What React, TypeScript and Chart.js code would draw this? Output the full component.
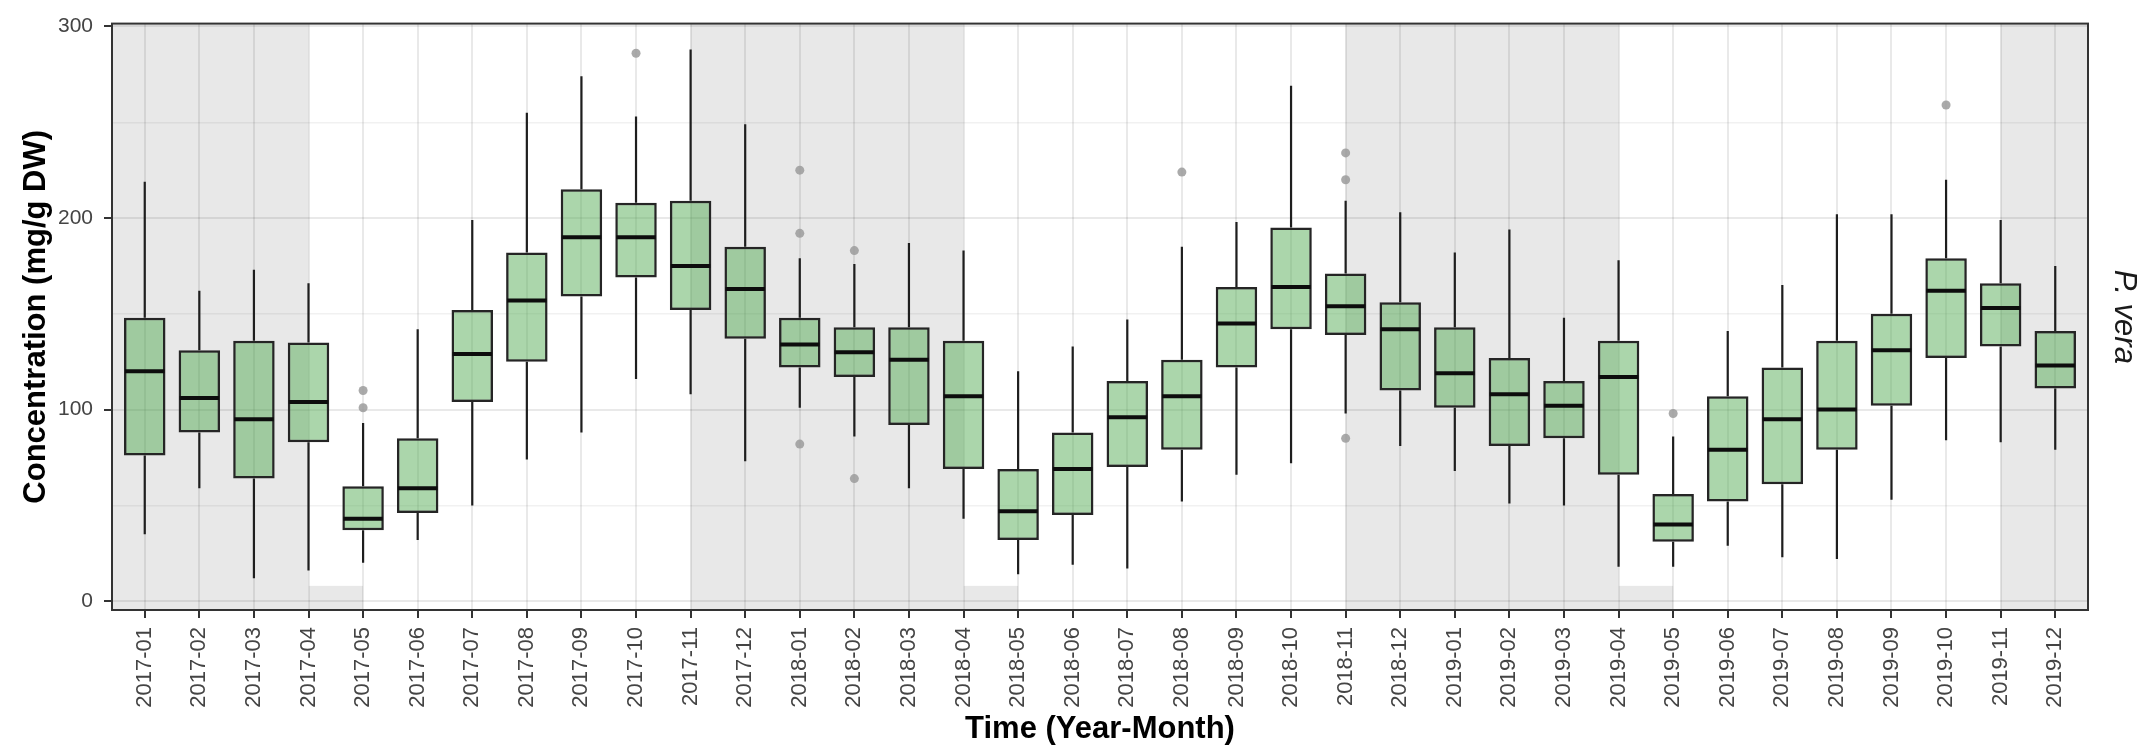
import React, { useEffect, useRef } from 'react';
import { Chart, registerables } from 'chart.js';

Chart.register(...registerables);

const FONT = "'Liberation Sans', Arial, Helvetica, sans-serif";

const months = [
  '2017-01', '2017-02', '2017-03', '2017-04', '2017-05', '2017-06',
  '2017-07', '2017-08', '2017-09', '2017-10', '2017-11', '2017-12',
  '2018-01', '2018-02', '2018-03', '2018-04', '2018-05', '2018-06',
  '2018-07', '2018-08', '2018-09', '2018-10', '2018-11', '2018-12',
  '2019-01', '2019-02', '2019-03', '2019-04', '2019-05', '2019-06',
  '2019-07', '2019-08', '2019-09', '2019-10', '2019-11', '2019-12',
];

const whiskerLow = [35, 59, 12, 16, 20, 32, 50, 74, 88, 116, 108, 73, 101, 86, 59, 43, 14, 19, 17, 52, 66, 72, 98, 81, 68, 51, 50, 18, 18, 29, 23, 22, 53, 84, 83, 79];
const q1 = [76, 88, 64, 83, 37, 46, 104, 125, 159, 169, 152, 137, 122, 117, 92, 69, 32, 45, 70, 79, 122, 142, 139, 110, 101, 81, 85, 66, 31, 52, 61, 79, 102, 127, 133, 111];
const median = [120, 106, 95, 104, 43, 59, 129, 157, 190, 190, 175, 163, 134, 130, 126, 107, 47, 69, 96, 107, 145, 164, 154, 142, 119, 108, 102, 117, 40, 79, 95, 100, 131, 162, 153, 123];
const q3 = [148, 131, 136, 135, 60, 85, 152, 182, 215, 208, 209, 185, 148, 143, 143, 136, 69, 88, 115, 126, 164, 195, 171, 156, 143, 127, 115, 136, 56, 107, 122, 136, 150, 179, 166, 141];
const whiskerHigh = [219, 162, 173, 166, 93, 142, 199, 255, 274, 253, 288, 249, 179, 176, 187, 183, 120, 133, 147, 185, 198, 269, 209, 203, 182, 194, 148, 178, 86, 141, 165, 202, 202, 220, 199, 175];

const outlierMonth = ['2017-05', '2017-05', '2017-10', '2018-01', '2018-01', '2018-01', '2018-02', '2018-02', '2018-08', '2018-11', '2018-11', '2018-11', '2019-05', '2019-10'];
const outlierValue = [110, 101, 286, 225, 192, 82, 183, 64, 224, 234, 220, 85, 98, 259];

// shaded (cool season) spans: null = panel edge
const shadeStart = [null, '2017-11', '2018-11', '2019-11'];
const shadeEnd = ['2017-04', '2018-04', '2019-04', null];
const stripStart = ['2017-04', '2018-04', '2019-04'];
const stripEnd = ['2017-05', '2018-05', '2019-05'];
const stripTop = 8;

const yTicks = [0, 50, 100, 150, 200, 250, 300];

const pos = (m: string | null) => (m === null ? null : months.indexOf(m) + 1);

const boxPlugin = {
  id: 'boxExtras',
  beforeDraw(chart: any) {
    const { ctx, chartArea: a, scales } = chart;
    const xs = scales.x;
    const ys = scales.y;
    ctx.save();
    ctx.fillStyle = '#e8e8e8';
    for (let i = 0; i < shadeStart.length; i++) {
      const s = pos(shadeStart[i]);
      const e = pos(shadeEnd[i]);
      const x0 = s === null ? a.left : xs.getPixelForValue(s);
      const x1 = e === null ? a.right : xs.getPixelForValue(e);
      ctx.fillRect(x0, a.top, x1 - x0, a.bottom - a.top);
    }
    for (let i = 0; i < stripStart.length; i++) {
      const x0 = xs.getPixelForValue(pos(stripStart[i]));
      const x1 = xs.getPixelForValue(pos(stripEnd[i]));
      const yt = ys.getPixelForValue(stripTop);
      ctx.fillRect(x0, yt, x1 - x0, a.bottom - yt);
    }
    ctx.restore();
  },
  beforeDatasetsDraw(chart: any) {
    const { ctx, scales } = chart;
    const xs = scales.x;
    const ys = scales.y;
    ctx.save();
    ctx.strokeStyle = '#1e1e1e';
    ctx.lineWidth = 2.2;
    for (let i = 0; i < months.length; i++) {
      const x = xs.getPixelForValue(i + 1);
      ctx.beginPath();
      ctx.moveTo(x, ys.getPixelForValue(whiskerHigh[i]));
      ctx.lineTo(x, ys.getPixelForValue(q3[i]));
      ctx.moveTo(x, ys.getPixelForValue(q1[i]));
      ctx.lineTo(x, ys.getPixelForValue(whiskerLow[i]));
      ctx.stroke();
    }
    ctx.restore();
  },
  afterDatasetDraw(chart: any, args: any) {
    if (args.index !== 0) return;
    const { ctx, scales } = chart;
    const ys = scales.y;
    ctx.save();
    ctx.strokeStyle = '#0d0d0d';
    ctx.lineWidth = 4;
    args.meta.data.forEach((el: any, i: number) => {
      const y = ys.getPixelForValue(median[i]);
      ctx.beginPath();
      ctx.moveTo(el.x - el.width / 2 + 1, y);
      ctx.lineTo(el.x + el.width / 2 - 1, y);
      ctx.stroke();
    });
    ctx.restore();
  },
  afterDraw(chart: any) {
    const { ctx, chartArea: a } = chart;
    ctx.save();
    ctx.strokeStyle = '#333333';
    ctx.lineWidth = 2;
    ctx.strokeRect(a.left, a.top, a.right - a.left, a.bottom - a.top);
    ctx.translate(2124, (a.top + a.bottom) / 2);
    ctx.rotate(Math.PI / 2);
    ctx.fillStyle = '#1a1a1a';
    ctx.font = `italic 31px ${FONT}`;
    ctx.textAlign = 'center';
    ctx.textBaseline = 'middle';
    ctx.fillText('P. vera', 0, 0);
    ctx.restore();
  },
};

export default function App() {
  const ref = useRef<HTMLCanvasElement | null>(null);

  useEffect(() => {
    if (!ref.current) return;
    const chart = new Chart(ref.current, {
      type: 'bar',
      data: {
        datasets: [
          {
            type: 'bar',
            label: 'box',
            data: months.map((m, i) => ({ x: i + 1, y: [q1[i], q3[i]] })) as any,
            backgroundColor: 'rgba(80,170,80,0.48)',
            borderColor: '#252525',
            borderWidth: 2.5,
            borderSkipped: false,
            barPercentage: 0.76,
            categoryPercentage: 1,
            order: 2,
          } as any,
          {
            type: 'scatter',
            label: 'outliers',
            data: outlierMonth.map((m, i) => ({ x: months.indexOf(m) + 1, y: outlierValue[i] })),
            pointRadius: 4.5,
            pointBackgroundColor: 'rgba(155,155,155,0.85)',
            pointBorderWidth: 0,
            order: 1,
          } as any,
        ],
      },
      options: {
        responsive: false,
        animation: false,
        layout: { padding: { left: 0, top: 10, right: 57, bottom: 0 } },
        plugins: { legend: { display: false }, tooltip: { enabled: false } },
        scales: {
          x: {
            type: 'linear',
            min: 0.4,
            max: 36.6,
            offset: false,
            afterBuildTicks: (s: any) => {
              s.ticks = months.map((_, i) => ({ value: i + 1 }));
            },
            afterFit: (s: any) => {
              s.height = 139;
            },
            ticks: {
              autoSkip: false,
              minRotation: 90,
              maxRotation: 90,
              padding: 9,
              color: '#444444',
              font: { size: 22, family: FONT },
              callback: (v: any) => months[Math.round(Number(v)) - 1] ?? '',
            },
            grid: {
              offset: false,
              color: 'rgba(0,0,0,0.085)',
              lineWidth: 2,
              tickColor: '#333333',
              tickWidth: 2,
              tickLength: 8,
            },
            border: { display: false },
            title: {
              display: true,
              text: 'Time (Year-Month)',
              color: '#000000',
              font: { size: 31, weight: 'bold', family: FONT },
              padding: { top: 0, bottom: 1 },
            },
          } as any,
          y: {
            type: 'linear',
            min: -4.6,
            max: 301.5,
            afterBuildTicks: (s: any) => {
              s.ticks = yTicks.map((v) => ({ value: v }));
            },
            afterFit: (s: any) => {
              s.width = 112;
            },
            ticks: {
              padding: 11,
              color: '#444444',
              font: { size: 21, family: FONT },
              callback: (v: any) => (Number(v) % 100 === 0 ? String(v) : ''),
            },
            grid: {
              color: (c: any) => (c.tick && c.tick.value % 100 === 0 ? 'rgba(0,0,0,0.085)' : 'rgba(0,0,0,0.055)'),
              lineWidth: (c: any) => (c.tick && c.tick.value % 100 === 0 ? 2 : 1.5),
              tickColor: (c: any) => (c.tick && c.tick.value % 100 === 0 ? '#333333' : 'rgba(0,0,0,0)'),
              tickWidth: 2,
              tickLength: 8,
            },
            border: { display: false },
            title: {
              display: true,
              text: 'Concentration (mg/g DW)',
              color: '#000000',
              font: { size: 31, weight: 'bold', family: FONT },
              padding: { top: 18, bottom: 0 },
            },
          } as any,
        },
      },
      plugins: [boxPlugin],
    });
    return () => chart.destroy();
  }, []);

  return (
    <div style={{ position: 'absolute', left: 0, top: 0, width: 2145, height: 749, background: '#ffffff' }}>
      <canvas ref={ref} width={2145} height={749} style={{ width: 2145, height: 749, display: 'block' }} />
    </div>
  );
}
